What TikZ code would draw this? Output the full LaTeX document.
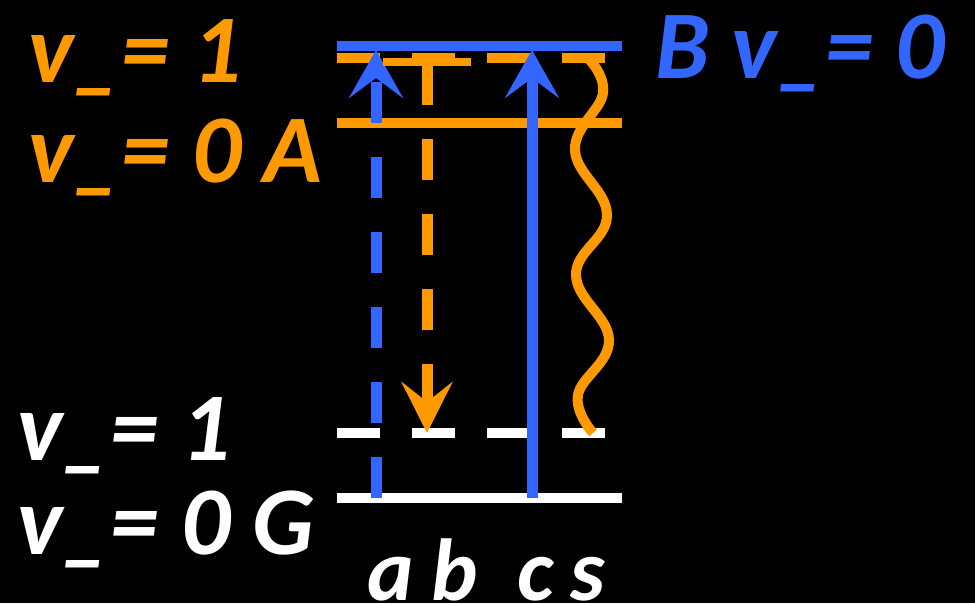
\documentclass[tikz,border=0pt]{standalone}
\usepackage{fontspec}
\setmainfont{Carlito}
\usetikzlibrary{arrows.meta}
\definecolor{levelorange}{HTML}{FF9900}
\definecolor{levelblue}{HTML}{3366FF}

\begin{document}
\begin{tikzpicture}[x=1pt, y=-1pt,
    level/.style={line width=10pt},
    dashlevel/.style={level, dash pattern=on 43pt off 32pt},
    trans/.style={line width=11pt, -{Stealth[length=48pt, width=54pt, inset=20pt]}},
    dashtrans/.style={trans, dash pattern=on 41pt off 34pt},
    lbl/.style={font=\fontsize{97}{97}\selectfont\bfseries\itshape, inner sep=0pt, anchor=base west},
    tag/.style={font=\fontsize{88}{88}\selectfont\bfseries\itshape, inner sep=0pt, anchor=base, white}]
  % Hintergrund
  \fill[black] (0,0) rectangle (975,603);
  \useasboundingbox (0,0) rectangle (975,603);
  % Niveaus
  \draw[level, levelblue] (337,46) -- (622,46);
  \draw[dashlevel, levelorange] (337,58) -- (622,58);
  \draw[level, levelorange] (337,123) -- (622,123);
  \draw[dashlevel, white] (337,433) -- (622,433);
  \draw[level, white] (337,498) -- (622,498);
  % Beschriftung der Niveaus
  \node[lbl, levelorange] (Av1) at (28,82) {v\_= 1};
  \node[lbl, levelorange] (Av0) at (28,182) {v\_= 0 A};
  \node[lbl, levelblue] (Bv0) at (655,78) {B v\_= 0};
  \node[lbl, white] (Gv1) at (17,460) {v\_= 1};
  \node[lbl, white] (Gv0) at (17,554) {v\_= 0 G};
  % Endpunkte der Uebergaenge
  \coordinate (a0) at (376,498);
  \coordinate (a1) at (376,50);
  \coordinate (b0) at (427,58);
  \coordinate (b1) at (427,433);
  \coordinate (c0) at (532,498);
  \coordinate (c1) at (532,50);
  % Uebergaenge
  \draw[dashtrans, levelblue] (a0) -- (a1);
  \draw[dashtrans, levelorange, {Bar[width=88pt, line width=8pt]}-{Stealth[length=51pt, width=51pt, inset=20pt]}] (b0) -- (b1);
  \draw[trans, levelblue] (c0) -- (c1);
  % strahlungsloser Uebergang s
  \draw[level, levelorange] plot[smooth, tension=0.7] coordinates
    {(588,58) (603,93) (575,150) (607,215) (576,275) (609,340) (578,395) (593,433)};
  % Namen der Uebergaenge
  \node[tag] (la) at (391,600) {a};
  \node[tag] (lb) at (455,600) {b};
  \node[tag] (lc) at (536,600) {c};
  \node[tag] (ls) at (588,600) {s};
\end{tikzpicture}
\end{document}
